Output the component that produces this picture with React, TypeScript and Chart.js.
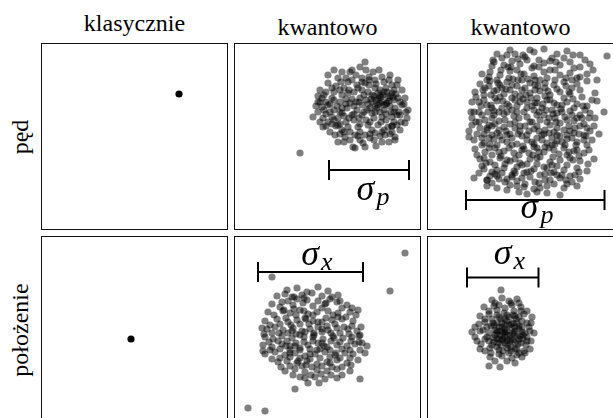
import { useEffect, useRef } from "react";
import { Chart, registerables } from "chart.js";

Chart.register(...registerables);

type Pt = [number, number];

// Column / row titles
const COLUMN_TITLES = ["klasycznie", "kwantowo", "kwantowo"];
const ROW_TITLES = ["pęd", "położenie"];

// Each panel's data range (arbitrary units), same on both axes
const AXIS_MIN = 1;
const AXIS_MAX = 186;

// Classical: a single sharp point
const CLASSIC_MOMENTUM: Pt[] = [[138, 136]];
const CLASSIC_POSITION: Pt[] = [[90, 84]];

// Quantum, state A (momentum)
const QA_MOMENTUM: Pt[] = [
  [131,168],[126,163],[94,155],[108,158],[116,158],[139,158],[156,155],[164,150],
  [86,140],[94,147],[104,152],[114,148],[123,145],[131,147],[141,150],[148,153],[158,145],[168,140],
  [88,132],[98,132],[106,140],[114,137],[124,142],[134,138],[141,142],[149,135],[158,137],[164,132],[171,132],
  [88,123],[94,125],[108,122],[116,127],[128,125],[138,128],[144,125],[153,127],[161,122],[168,125],[174,120],
  [79,113],[89,112],[98,113],[108,117],[118,115],[128,115],[138,117],[148,113],[158,113],[166,115],[173,112],
  [89,103],[104,105],[114,103],[124,103],[134,105],[144,105],[154,103],[163,105],[171,107],
  [101,95],[111,93],[121,95],[131,95],[141,97],[151,95],[161,93],
  [104,88],[119,83],[129,87],[148,88],[161,90],[121,82],[131,83],
  [66,77],
  [92,128],[100,120],[106,128],[112,131],[120,124],[126,132],[132,130],[136,122],[140,134],[144,131],
  [148,128],[150,120],[154,132],[156,124],[160,130],[146,140],[152,142],[135,145],[128,140],[120,138],
  [110,142],[100,138],[96,118],[104,112],[112,108],[120,110],[126,106],[132,110],[140,112],[146,118],
  [152,110],[160,108],[166,100],[158,98],[150,100],[138,100],[126,98],[116,98],[108,100],[98,106],
  [92,116],[84,118],[86,128],[110,88],[140,90],[155,88],[135,153],[122,155],[145,160],[100,160],
  [142,130],[147,133],[152,126],[138,135],[156,134],[150,138],[144,137],[106,106],[100,130],[102,104],
  [118,160],[128,152],[150,148],[160,140],[170,126],[165,118],[157,118],[143,122],[133,120],[123,120],
  [113,122],[103,124],[90,120],[82,124],[84,134],[92,138],[102,144],[112,152],[132,160],[142,146],
  [155,150],[163,145],[172,118],[167,108],[158,104],[147,108],[136,108],[125,112],[115,112],[106,118],
  [94,108],[86,108],[96,98],[106,96],[116,90],[126,90],[136,92],[146,94],[156,96],[142,84],
  [150,125],[146,127],[141,124],[155,129],[159,133],[137,131],[130,135],[125,128],[118,131],[108,135],
  [135,150],[128,148],[118,150],[107,148],[98,142],[90,135],[84,128],[96,126],[112,126],[122,128],
  [134,126],[146,134],[153,138],[162,136],[166,128],[160,118],[152,116],[141,118],[130,118],[120,116],
  [110,114],[100,110],[92,104],[110,98],[124,94],[136,96],[148,98],[158,104],[163,115],[115,140],
];

// Quantum, state A (position)
const QA_POSITION: Pt[] = [
  [63,135],[84,136],
  [43,127],[51,129],[58,126],[68,128],[78,130],[88,127],[98,126],[104,128],
  [38,119],[48,121],[59,118],[69,120],[79,117],[91,119],[103,121],[113,118],
  [34,111],[49,112],[56,110],[66,113],[74,109],[83,111],[94,112],[104,110],[116,111],[124,113],
  [31,102],[43,104],[54,101],[63,103],[71,105],[79,102],[88,101],[98,103],[108,104],[119,102],
  [33,94],[41,96],[49,93],[59,95],[68,92],[76,94],[84,96],[94,93],[103,95],[114,94],[123,92],
  [31,86],[39,84],[48,87],[58,85],[66,88],[79,86],[89,84],[99,87],[109,85],[118,86],[126,88],
  [29,78],[38,76],[48,79],[56,77],[66,75],[74,78],[84,80],[93,76],[103,78],[113,77],[121,79],[133,77],
  [31,69],[41,71],[51,68],[61,70],[71,67],[81,69],[91,71],[101,68],[111,70],[119,69],
  [44,61],[53,62],[63,60],[73,62],[83,59],[93,61],[103,63],[113,60],
  [51,52],[61,54],[71,51],[83,53],[93,52],[103,54],[116,52],
  [71,45],[81,46],[91,44],[103,45],[126,44],
  [61,34],
  [171,170],[156,132],[38,146],[14,15],[31,12],
  [46,116],[54,122],[63,124],[73,123],[84,122],[96,124],[108,115],[60,114],[70,112],[79,108],
  [88,115],[99,108],[112,106],[40,108],[36,98],[46,99],[57,98],[66,99],[75,99],[84,101],
  [93,97],[101,99],[110,96],[118,97],[38,90],[45,90],[54,90],[62,89],[71,91],[80,90],
  [88,91],[97,90],[106,90],[115,89],[35,81],[44,82],[53,82],[62,80],[70,81],[79,82],
  [88,80],[97,82],[106,81],[117,82],[125,81],[36,73],[46,74],[56,73],[66,73],[76,74],
  [86,74],[96,73],[108,74],[116,73],[126,73],[46,65],[56,66],[66,65],[76,64],[86,65],
  [96,66],[106,65],[116,65],[56,57],[68,57],[78,56],[88,57],[98,56],[108,56],[77,48],
  [87,49],[97,48],[66,46],[50,113],[80,88],[83,73],[64,62],[104,106],
  [53,133],[73,131],[94,132],[60,126],[70,125],[92,120],[106,122],[118,115],[122,108],[28,95],
  [127,96],[125,87],[30,89],[128,80],[29,72],[131,70],[38,64],[124,63],[47,56],[117,58],
  [59,48],[108,48],[85,40],[74,40],[52,105],[62,108],[72,104],[92,105],[58,92],[88,94],
  [70,86],[100,85],[52,77],[90,77],[61,77],[102,70],[76,69],[56,70],[96,60],[72,58],
];

// Quantum, state B (momentum) - wide
const QB_MOMENTUM: Pt[] = [
  [70,176],[83,180],[96,175],[107,178],[117,181],[130,176],[140,179],[153,175],[180,174],
  [67,168],[77,165],[85,169],[93,166],[100,170],[107,164],[117,167],[123,169],[133,165],[143,168],[153,163],[163,166],
  [63,158],[73,155],[83,159],[97,156],[107,154],[117,158],[123,160],[133,155],[143,157],[153,153],
  [53,146],[63,149],[73,145],[80,148],[90,144],[103,147],[113,150],[127,145],[137,148],[150,146],[160,149],
  [48,138],[57,135],[67,139],[77,136],[83,140],[93,134],[103,137],[113,139],[123,135],[133,138],[143,136],[153,140],[168,137],
  [52,128],[60,125],[70,129],[80,126],[90,124],[100,128],[110,127],[123,130],[130,125],[140,128],[150,126],[160,124],[170,129],
  [47,118],[55,115],[67,119],[77,116],[87,114],[97,118],[107,120],[117,115],[130,117],[143,119],[153,115],[163,117],[177,118],
  [52,108],[62,105],[72,109],[83,106],[93,104],[103,108],[113,110],[123,105],[133,107],[147,109],[157,106],
  [42,99],[50,96],[60,100],[70,97],[80,95],[93,99],[107,101],[117,96],[127,98],[137,100],[147,97],[157,95],[163,99],
  [47,90],[57,87],[67,91],[80,88],[90,86],[100,90],[110,92],[120,87],[130,89],[140,91],[150,88],[165,90],
  [48,81],[58,78],[68,82],[77,79],[87,77],[97,81],[107,83],[117,78],[127,80],[137,82],[147,79],[157,77],
  [53,71],[63,68],[73,72],[83,69],[93,67],[103,71],[113,73],[123,68],[133,70],[143,72],[153,69],[167,71],
  [57,61],[65,58],[77,62],[87,59],[97,57],[107,61],[117,63],[127,58],[137,60],[150,62],[160,59],
  [47,52],[60,50],[70,54],[80,51],[90,49],[103,53],[113,55],[123,50],[133,52],[143,54],[153,51],
  [60,44],[70,42],[83,45],[97,43],[107,41],[120,44],[127,46],[137,42],[150,44],
  [100,36],[120,37],[133,35],
  [58,142],[68,132],[75,142],[88,130],[95,140],[85,120],[75,122],[65,112],[78,110],[92,112],
  [100,122],[110,132],[118,142],[125,120],[112,118],[105,108],[118,100],[128,112],[135,125],[140,110],
  [130,95],[115,90],[100,95],[88,102],[72,100],[62,92],[70,85],[85,85],[95,80],[110,82],
  [125,85],[140,95],[148,102],[155,112],[160,85],[70,150],[82,152],[95,150],[108,145],[120,152],
  [64,125],[52,118],[45,105],[60,102],[55,85],[65,75],[80,70],[95,65],[110,72],[125,65],
  [140,75],[150,80],[135,55],[118,50],[100,58],[85,55],[70,60],[60,50],[90,160],[105,162],
  [128,160],[145,150],[112,170],[98,173],[80,175],
  [55,156],[65,164],[75,172],[88,176],[103,180],[125,172],[137,172],[147,162],[160,156],[170,150],
  [60,150],[70,140],[85,145],[98,142],[108,140],[118,147],[130,141],[145,142],[155,133],[165,130],
  [45,128],[57,130],[65,122],[73,133],[85,132],[96,131],[105,124],[115,122],[120,130],[127,127],
  [137,132],[147,122],[158,120],[168,112],[45,112],[58,110],[67,115],[80,118],[90,118],[100,113],
  [110,115],[122,112],[135,118],[150,112],[160,102],[42,93],[53,102],[65,104],[77,103],[88,108],
  [98,104],[110,104],[120,108],[130,102],[142,104],[152,96],[55,92],[65,95],[75,90],[85,92],
  [95,94],[105,88],[115,95],[125,92],[135,88],[145,92],[157,90],[50,75],[62,82],[72,78],
  [82,82],[92,75],[102,77],[112,78],[122,82],[132,76],[142,78],[152,74],[162,80],[55,64],
  [68,65],[78,66],[90,63],[100,66],[110,66],[120,62],[130,64],[140,65],[152,58],[52,57],
  [63,54],[75,57],[85,53],[95,52],[108,48],[118,56],[130,55],[145,48],[65,47],[78,48],
  [90,44],[113,42],[140,46],[110,38],[92,38],
  [62,153],[71,147],[79,141],[86,151],[94,156],[101,151],[111,144],[121,139],[128,150],[139,144],
  [146,131],[134,121],[126,116],[116,126],[104,132],[93,128],[82,124],[72,118],[61,118],[54,124],
  [49,133],[56,140],[64,135],[76,129],[88,136],[99,135],[108,127],[119,120],[129,108],[138,113],
  [145,115],[156,124],[162,112],[153,104],[143,99],[133,94],[122,97],[112,99],[102,99],[91,96],
  [79,99],[68,106],[57,96],[49,108],[44,118],[63,86],[73,94],[83,96],[96,84],[107,86],
  [118,83],[128,86],[138,85],[149,85],[159,94],[167,104],[172,96],[66,170],[81,163],[91,171],
  [112,163],[129,168],[146,175],[158,170],[166,160],[150,152],[139,152],[108,150],[84,163],[74,160],
  [62,144],[91,150],[118,134],[142,138],[57,72],[74,74],[88,71],[106,75],[126,73],[146,70],
  [161,66],[72,51],[88,57],[104,59],[124,57],[139,50],[148,55],[98,46],[112,47],[80,40],
  [68,56],[59,67],
];

// Quantum, state B (position) - narrow
const QB_POSITION: Pt[] = [
  [74,133],
  [65,123],[75,125],[82,122],[90,124],
  [57,116],[67,117],[78,115],[85,118],[94,116],
  [53,107],[62,109],[72,106],[80,108],[88,107],[97,109],[105,106],
  [52,99],[58,101],[67,98],[75,100],[84,99],[92,97],[100,100],
  [45,91],[53,92],[62,90],[70,92],[78,91],[87,89],[95,91],[103,92],
  [50,82],[58,84],[67,81],[75,83],[83,82],[92,84],[100,82],
  [53,74],[63,75],[72,73],[80,75],[88,74],[97,72],[103,74],
  [63,66],[75,67],[85,65],[95,66],
  [62,57],[73,56],
  [65,104],[70,100],[75,96],[80,102],[85,95],[90,100],[95,96],[68,93],[73,88],[78,94],
  [83,88],[88,92],[93,87],[98,90],[66,85],[71,80],[76,84],[81,78],[86,83],[91,79],
  [96,84],[70,76],[78,80],[84,76],[90,74],[74,104],[82,106],[89,104],[95,102],[64,97],
  [60,86],[100,86],[87,112],[77,110],[70,113],[94,112],[99,78],[65,78],[82,70],[90,68],
  [72,69],[78,86],[86,90],[80,92],[74,92],[92,94],[68,88],
  [68,120],[84,120],[62,112],[72,118],[92,120],[100,112],[58,104],[104,100],[48,96],[56,93],
  [102,96],[107,90],[48,86],[54,79],[104,82],[58,72],[98,70],[68,62],[80,62],[88,60],
  [70,108],[78,104],[86,108],[92,106],[66,100],[88,96],[82,98],[72,96],[60,96],[96,88],
  [62,82],[70,84],[80,82],[90,86],[94,80],[74,78],[84,72],[64,70],[76,72],[92,70],
  [80,88],[84,84],[76,90],[70,90],[88,80],[86,100],[78,98],[72,84],
];

// Uncertainty bars: [from, to, at], label position [x, y]
const BAR_QA_MOMENTUM = { from: 95, to: 175, at: 60, labelX: 139, labelY: 38, sub: "p" };
const BAR_QB_MOMENTUM = { from: 39, to: 177.5, at: 30, labelX: 110, labelY: 20, sub: "p" };
const BAR_QA_POSITION = { from: 24, to: 129, at: 151, labelX: 83, labelY: 166, sub: "x" };
const BAR_QB_POSITION = { from: 40, to: 111.5, at: 145.5, labelX: 82.5, labelY: 167, sub: "x" };

type BarSpec = typeof BAR_QA_MOMENTUM;

const PANEL = 187;
const COL_LEFT = [41, 234, 427];
const ROW_TOP = [43, 236];

const QUANTUM_COLOR = "rgba(0,0,0,0.5)";
const CLASSIC_COLOR = "#000";

function Panel(props: { points: Pt[]; color: string; bar?: BarSpec; left: number; top: number }) {
  const ref = useRef<HTMLCanvasElement | null>(null);
  useEffect(() => {
    const canvas = ref.current;
    if (!canvas) return;
    const bar = props.bar;
    const datasets: any[] = [
      {
        data: props.points.map(([x, y]) => ({ x, y })),
        backgroundColor: props.color,
        borderWidth: 0,
        pointRadius: 3.6,
        pointHoverRadius: 3.6,
      },
    ];
    if (bar) {
      datasets.push({
        data: [
          { x: bar.from, y: bar.at },
          { x: bar.to, y: bar.at },
        ],
        showLine: true,
        borderColor: "#000",
        borderWidth: 2,
        pointStyle: "line",
        pointRotation: 90,
        pointRadius: 10,
        pointHoverRadius: 10,
        pointBorderWidth: 2,
        pointBorderColor: "#000",
        backgroundColor: "#000",
      });
    }
    const labelPlugin = {
      id: "sigmaLabel",
      afterDatasetsDraw(chart: any) {
        if (!bar) return;
        const { ctx, scales } = chart;
        const cx = scales.x.getPixelForValue(bar.labelX);
        const cy = scales.y.getPixelForValue(bar.labelY);
        ctx.save();
        ctx.fillStyle = "#000";
        const sigmaFont = 'italic 36px "Liberation Serif"';
        const subFont = 'italic 26px "Liberation Serif"';
        ctx.font = sigmaFont;
        const w1 = ctx.measureText("σ").width;
        ctx.font = subFont;
        const w2 = ctx.measureText(bar.sub).width;
        const gap = 2;
        const start = cx - (w1 + gap + w2) / 2;
        ctx.font = sigmaFont;
        ctx.textBaseline = "alphabetic";
        ctx.fillText("σ", start, cy + 8);
        ctx.font = subFont;
        ctx.fillText(bar.sub, start + w1 + gap, cy + 13);
        ctx.restore();
      },
    };
    const chart = new Chart(canvas, {
      type: "scatter",
      data: { datasets },
      options: {
        animation: false,
        responsive: false,
        events: [],
        layout: { padding: 0, autoPadding: false },
        plugins: { legend: { display: false }, tooltip: { enabled: false } },
        scales: {
          x: { type: "linear", min: AXIS_MIN, max: AXIS_MAX, display: false },
          y: { type: "linear", min: AXIS_MIN, max: AXIS_MAX, display: false },
        },
      },
      plugins: [labelPlugin],
    });
    return () => chart.destroy();
  }, []);
  return (
    <div
      style={{
        position: "absolute",
        left: props.left,
        top: props.top,
        width: PANEL,
        height: PANEL,
        boxSizing: "border-box",
        border: "1px solid #111",
        background: "#fff",
      }}
    >
      <canvas ref={ref} width={PANEL - 2} height={PANEL - 2} style={{ display: "block", width: PANEL - 2, height: PANEL - 2 }} />
    </div>
  );
}

const textStyle: any = {
  position: "absolute",
  fontFamily: '"Liberation Serif", serif',
  fontSize: 24,
  lineHeight: "24px",
  color: "#000",
  whiteSpace: "nowrap",
  textAlign: "center",
};

export default function App() {
  return (
    <div
      style={{
        position: "fixed",
        left: 0,
        top: 0,
        width: 613,
        height: 418,
        overflow: "hidden",
        background: "#fff",
      }}
    >
      <div style={{ ...textStyle, left: COL_LEFT[0], top: 11, width: PANEL }}>{COLUMN_TITLES[0]}</div>
      <div style={{ ...textStyle, left: COL_LEFT[1], top: 15, width: PANEL }}>{COLUMN_TITLES[1]}</div>
      <div style={{ ...textStyle, left: COL_LEFT[2], top: 15, width: PANEL }}>{COLUMN_TITLES[2]}</div>
      {ROW_TITLES.map((t, i) => (
        <div
          key={t}
          style={{
            ...textStyle,
            left: 20,
            top: ROW_TOP[i] + PANEL / 2,
            width: 160,
            transform: "translate(-50%, -50%) rotate(-90deg)",
          }}
        >
          {t}
        </div>
      ))}
      <Panel points={CLASSIC_MOMENTUM} color={CLASSIC_COLOR} left={COL_LEFT[0]} top={ROW_TOP[0]} />
      <Panel points={QA_MOMENTUM} color={QUANTUM_COLOR} bar={BAR_QA_MOMENTUM} left={COL_LEFT[1]} top={ROW_TOP[0]} />
      <Panel points={QB_MOMENTUM} color={QUANTUM_COLOR} bar={BAR_QB_MOMENTUM} left={COL_LEFT[2]} top={ROW_TOP[0]} />
      <Panel points={CLASSIC_POSITION} color={CLASSIC_COLOR} left={COL_LEFT[0]} top={ROW_TOP[1]} />
      <Panel points={QA_POSITION} color={QUANTUM_COLOR} bar={BAR_QA_POSITION} left={COL_LEFT[1]} top={ROW_TOP[1]} />
      <Panel points={QB_POSITION} color={QUANTUM_COLOR} bar={BAR_QB_POSITION} left={COL_LEFT[2]} top={ROW_TOP[1]} />
    </div>
  );
}
